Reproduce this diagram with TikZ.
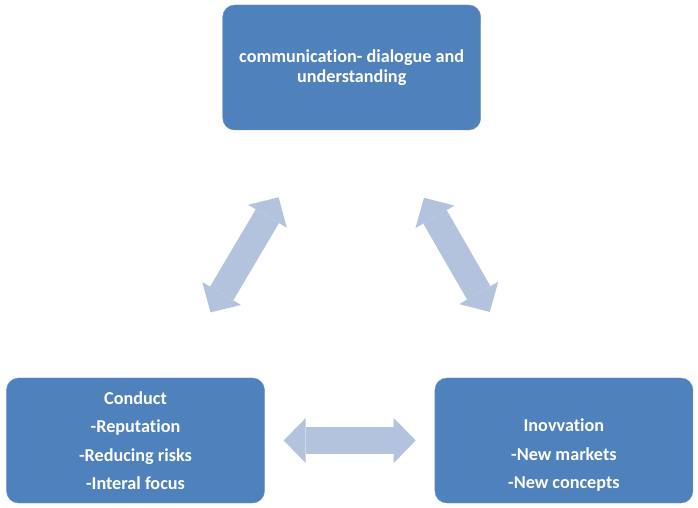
\documentclass[tikz,border=0pt]{standalone}
\usepackage{fontspec}
\setmainfont{Carlito}[Ligatures=NoCommon]
\usetikzlibrary{positioning,arrows.meta,calc}
\definecolor{boxblue}{RGB}{79,129,189}
\definecolor{arrowblue}{RGB}{179,195,222}

\begin{document}
\begin{tikzpicture}[
  x=1pt, y=1pt,
  topic/.style={rectangle, rounded corners=12pt, fill=boxblue, draw=boxblue!85!white,
    minimum width=258pt, minimum height=125pt, align=center, text=white,
    font=\fontsize{18.2}{20.5}\selectfont\bfseries},
  link/.style={draw=arrowblue, line width=27pt,
    {Triangle[length=22pt,width=45pt,line width=0pt]}-{Triangle[length=22pt,width=45pt,line width=0pt]}},
]
  \useasboundingbox (-135.5,-67.5) rectangle (562.5,440.5);
  % Topics
  \node[topic] (conduct) at (0,0) {Conduct\\[8pt]-Reputation\\[8pt]-Reducing risks\\[8pt]-Interal focus};
  \node[topic, right=170pt of conduct] (innovation) {\strut\\[8pt]Inovvation\\[8pt]-New markets\\[8pt]-New concepts};
  \node[topic] (communication) at ($(conduct)!0.5!(innovation)+(2,373)$) {communication- dialogue and\\understanding};

  % Links
  \draw[link, shorten <=19pt, shorten >=19pt] (conduct) -- (innovation);
  \draw[link, shorten <=76pt, shorten >=78pt] (conduct.60) -- (communication.242);
  \draw[link, shorten <=76pt, shorten >=78pt] (innovation.120) -- (communication.298);
\end{tikzpicture}
\end{document}
